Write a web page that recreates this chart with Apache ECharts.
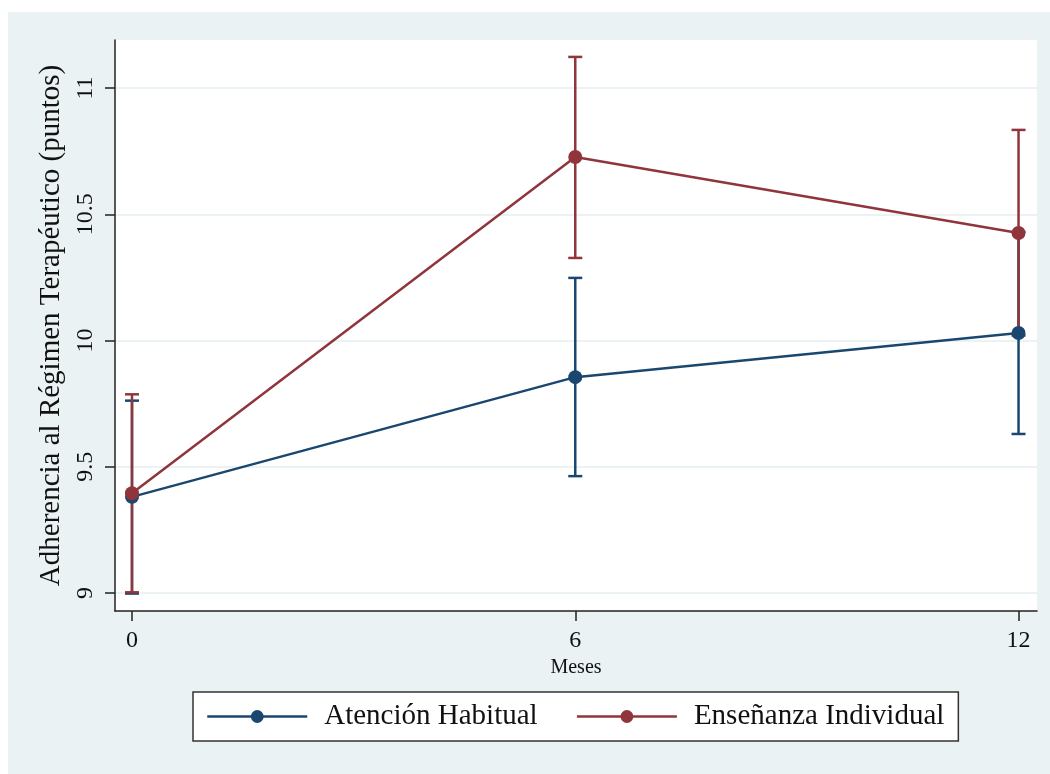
<!DOCTYPE html>
<html>
<head>
<meta charset="utf-8">
<script src="https://cdn.jsdelivr.net/npm/echarts@6/dist/echarts.min.js"></script>
<style>
html,body{margin:0;padding:0;background:#fff;}
#chart{width:1050px;height:774px;}
</style>
</head>
<body>
<div id="chart"></div>
<script>
const xValues = [0, 6, 12];
const atencionMean = [9.381, 9.855, 10.03];
const atencionLow = [8.998, 9.463, 9.63];
const atencionHigh = [9.762, 10.248, 10.43];
const ensenanzaMean = [9.395, 10.727, 10.426];
const ensenanzaLow = [9.003, 10.327, 10.02];
const ensenanzaHigh = [9.787, 11.123, 10.834];
const yTicks = [9, 9.5, 10, 10.5, 11];
const xTicks = [0, 6, 12];
const seriesNames = ['Atención Habitual', 'Enseñanza Individual'];
const yTitle = 'Adherencia al Régimen Terapéutico (puntos)';
const xTitle = 'Meses';

const BLUE = '#1A476F';
const RED = '#90353B';
const FONT = '"Liberation Serif", "Times New Roman", serif';

function pts(means) { return xValues.map((x, i) => [x, means[i]]); }
function ci(low, high) { return xValues.map((x, i) => [x, low[i], high[i]]); }

function errRender(color) {
  return function (params, api) {
    const x = api.value(0);
    const lo = api.coord([x, api.value(1)]);
    const hi = api.coord([x, api.value(2)]);
    const w = 7;
    const st = { stroke: color, lineWidth: 2.5, fill: null };
    return {
      type: 'group',
      children: [
        { type: 'line', shape: { x1: lo[0], y1: lo[1], x2: hi[0], y2: hi[1] }, style: st },
        { type: 'line', shape: { x1: lo[0] - w, y1: lo[1], x2: lo[0] + w, y2: lo[1] }, style: st },
        { type: 'line', shape: { x1: hi[0] - w, y1: hi[1], x2: hi[0] + w, y2: hi[1] }, style: st }
      ]
    };
  };
}

const chart = echarts.init(document.getElementById('chart'), null, { renderer: 'canvas' });
chart.setOption({
  animation: false,
  backgroundColor: '#ffffff',
  textStyle: { fontFamily: FONT },
  graphic: [{
    type: 'rect', left: 8, top: 12, z: -10,
    shape: { width: 1042, height: 762 },
    style: { fill: '#EAF2F3' }
  }],
  grid: {
    left: 115, right: 13, top: 40, bottom: 163,
    show: true, backgroundColor: '#ffffff', borderWidth: 0
  },
  legend: {
    data: seriesNames,
    left: 193, top: 692,
    orient: 'horizontal',
    backgroundColor: '#ffffff',
    borderColor: '#333333', borderWidth: 1.5,
    padding: [10, 14, 10, 13],
    itemWidth: 100, itemHeight: 16, itemGap: 38,
    lineStyle: { width: 2.5 },
    textStyle: { fontFamily: FONT, fontSize: 29, color: '#111', padding: [0, 0, 0, 12] }
  },
  xAxis: {
    type: 'value', min: -0.23, max: 12.25,
    name: xTitle, nameLocation: 'middle', nameGap: 42,
    nameTextStyle: { fontFamily: FONT, fontSize: 20, color: '#111' },
    axisLine: { show: true, onZero: false, lineStyle: { color: '#222', width: 1.5 } },
    axisTick: { show: true, length: 10, customValues: xTicks, lineStyle: { color: '#222', width: 1.5 } },
    axisLabel: { customValues: xTicks, margin: 18, fontFamily: FONT, fontSize: 24, color: '#111' },
    splitLine: { show: false }
  },
  yAxis: {
    type: 'value', min: 8.929, max: 11.19,
    name: yTitle, nameLocation: 'middle', nameGap: 41, nameRotate: 90,
    nameTextStyle: { fontFamily: FONT, fontSize: 29, color: '#111' },
    axisLine: { show: true, onZero: false, lineStyle: { color: '#222', width: 1.5 } },
    axisTick: { show: true, length: 10, customValues: yTicks, lineStyle: { color: '#222', width: 1.5 } },
    axisLabel: { customValues: yTicks, rotate: 90, margin: 17, fontFamily: FONT, fontSize: 24, color: '#111' },
    splitLine: { show: true, lineStyle: { color: '#EAF2F3', width: 2 } }
  },
  series: [
    { name: 'IC ' + seriesNames[0], type: 'custom', renderItem: errRender(BLUE), data: ci(atencionLow, atencionHigh), encode: { x: 0, y: [1, 2] }, silent: true },
    { name: 'IC ' + seriesNames[1], type: 'custom', renderItem: errRender(RED), data: ci(ensenanzaLow, ensenanzaHigh), encode: { x: 0, y: [1, 2] }, silent: true },
    { name: seriesNames[0], type: 'line', data: pts(atencionMean), symbol: 'circle', symbolSize: 14,
      itemStyle: { color: BLUE }, lineStyle: { color: BLUE, width: 2.5 } },
    { name: seriesNames[1], type: 'line', data: pts(ensenanzaMean), symbol: 'circle', symbolSize: 14,
      itemStyle: { color: RED }, lineStyle: { color: RED, width: 2.5 } }
  ]
});
</script>
</body>
</html>
